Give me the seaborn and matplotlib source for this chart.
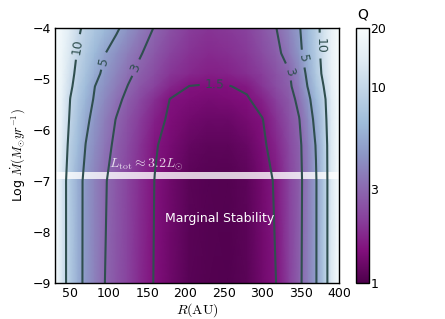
import numpy as np
import matplotlib
matplotlib.use('Agg')
import matplotlib.pyplot as plt
import seaborn as sns
from matplotlib.colors import LogNorm

# Grid: radius (AU) columns and log Mdot rows
r_au = [30, 40, 50, 60, 70, 82, 95, 110, 125, 140, 160, 180, 205, 230, 255, 280, 300, 318, 335, 348, 360, 370, 380, 390, 400]
log_mdot = [-9, -7, -6.3, -5.8, -5.4, -5.15, -4.9, -4.5, -4.0]

# Toomre Q along each row (one list per log Mdot value)
q_m9_0 = [22, 12, 7.94, 5.71, 4.53, 3.72, 3, 2.54, 2.15, 1.81, 1.47, 1.27, 1.09, 1.05, 1.04, 1.1, 1.3, 1.5, 2.12, 2.77, 3.72, 4.87, 7.81, 13, 22]
q_m7_0 = [22, 12, 7.94, 5.71, 4.56, 3.78, 3.09, 2.59, 2.19, 1.85, 1.49, 1.29, 1.11, 1.07, 1.06, 1.12, 1.32, 1.56, 2.14, 2.73, 3.66, 4.86, 7.81, 13, 22]
q_m6_3 = [22, 13.0, 8.68, 6.54, 4.96, 4.13, 3.39, 2.76, 2.32, 1.94, 1.54, 1.36, 1.18, 1.13, 1.13, 1.22, 1.41, 1.73, 2.27, 2.79, 3.76, 5.11, 8.0, 13.0, 22]
q_m5_8 = [22, 14.0, 9.35, 7.15, 5.46, 4.41, 3.65, 2.95, 2.48, 2.09, 1.66, 1.43, 1.30, 1.24, 1.24, 1.34, 1.48, 1.90, 2.44, 2.96, 4.10, 5.65, 8.50, 13.4, 22]
q_m5_4 = [22, 14.7, 9.88, 7.78, 6.12, 4.77, 4.02, 3.29, 2.74, 2.31, 1.84, 1.49, 1.42, 1.37, 1.39, 1.46, 1.68, 2.12, 2.64, 3.27, 4.59, 6.37, 9.01, 13.8, 22]
q_m5_15 = [22, 15.4, 10.7, 8.31, 6.6, 5, 4.27, 3.56, 2.97, 2.57, 2.12, 1.75, 1.49, 1.47, 1.48, 1.57, 1.94, 2.35, 2.81, 3.66, 5.17, 7.19, 10, 14.8, 22]
q_m4_9 = [22, 15.8, 11.4, 8.82, 7.15, 5.55, 4.56, 3.83, 3.22, 2.77, 2.33, 1.95, 1.76, 1.64, 1.69, 1.84, 2.09, 2.48, 2.92, 3.93, 5.55, 7.85, 11.1, 15.6, 22]
q_m4_5 = [22, 16.5, 12.4, 9.55, 7.96, 6.4, 5.05, 4.28, 3.64, 3.1, 2.6, 2.19, 1.92, 1.79, 1.85, 2, 2.33, 2.74, 3.46, 4.51, 6.2, 8.44, 11.6, 15.9, 22]
q_m4_0 = [22, 17.3, 13.6, 10.7, 9.09, 7.72, 6.47, 5.28, 4.39, 3.68, 2.94, 2.48, 2.07, 1.94, 2, 2.15, 2.56, 2.98, 3.9, 4.81, 6.55, 8.69, 11.7, 16, 22]

contour_levels = [1.5, 3, 5, 10]
contour_labels = ['1.5', '3', '5', '10']
cbar_ticks = [1, 3, 10, 20]
cbar_ticklabels = ['1', '3', '10', '20']
x_ticks = [50, 100, 150, 200, 250, 300, 350, 400]
y_ticks = [-9, -8, -7, -6, -5, -4]

Q = np.array([q_m9_0, q_m7_0, q_m6_3, q_m5_8, q_m5_4, q_m5_15, q_m4_9, q_m4_5, q_m4_0])

sns.set_style('ticks', {'xtick.direction': 'in', 'ytick.direction': 'in'})
plt.rcParams['font.family'] = ['DejaVu Sans']
plt.rcParams['mathtext.fontset'] = 'cm'
for k in ['text.color', 'axes.labelcolor', 'xtick.color', 'ytick.color', 'axes.edgecolor']:
    plt.rcParams[k] = 'black'

fig = plt.figure(figsize=(4.45, 3.19), dpi=100)
ax = fig.add_axes([0.1236, 0.1129, 0.6382, 0.8001])
cax = fig.add_axes([0.8, 0.1129, 0.0292, 0.8001])
cmap = sns.color_palette('BuPu_r', as_cmap=True)
norm = LogNorm(vmin=1, vmax=20)
Rg, Lg = np.meshgrid(r_au, log_mdot)
mesh = ax.pcolormesh(Rg, Lg, Q, cmap=cmap, norm=norm, shading='gouraud')
cs = ax.contour(Rg, Lg, np.log10(Q), levels=np.log10(contour_levels),
                colors='#2f4f4f', linewidths=1.5)
fmt = dict(zip(cs.levels, contour_labels))
ax.clabel(cs, fmt=fmt, fontsize=9, inline=True,
          manual=[(57, -4.37), (93, -4.65), (135, -4.78), (238, -5.09),
                  (338, -4.85), (355, -4.6), (373, -4.35)])
ax.axhspan(-6.97, -6.83, color='white', alpha=0.8, lw=0)
ax.text(101, -6.72, r'$L_{\rm tot} \approx 3.2 L_{\odot}$', color='white', alpha=0.8, fontsize=10)
ax.text(245, -7.73, 'Marginal Stability', color='white', fontsize=9, ha='center', va='center')
ax.set_xlim(30, 400)
ax.set_ylim(-9, -4)
ax.set_xticks(x_ticks)
ax.set_yticks(y_ticks)
ax.tick_params(top=True, right=True, direction='in', labelsize=9, length=4, width=0.6,
               color='black', labelcolor='black', pad=3)
for s in ax.spines.values():
    s.set_color('black')
    s.set_linewidth(1.0)
ax.set_xlabel(r'$R(\mathrm{AU})$', fontsize=10, labelpad=1, color='black')
ax.set_ylabel(r'Log $\dot{M}(M_{\odot}yr^{-1})$', fontsize=9, labelpad=4, color='black')
cb = fig.colorbar(mesh, cax=cax, ticks=cbar_ticks)
cb.ax.set_yticklabels(cbar_ticklabels)
cb.ax.minorticks_off()
cb.ax.tick_params(direction='in', labelsize=9, length=3, width=0.6, pad=1,
                  color='black', labelcolor='black')
cb.outline.set_edgecolor('black')
cb.outline.set_linewidth(1.0)
cb.ax.set_title('Q', fontsize=10, pad=7, color='black')
fig.savefig('out.png', dpi=100)
